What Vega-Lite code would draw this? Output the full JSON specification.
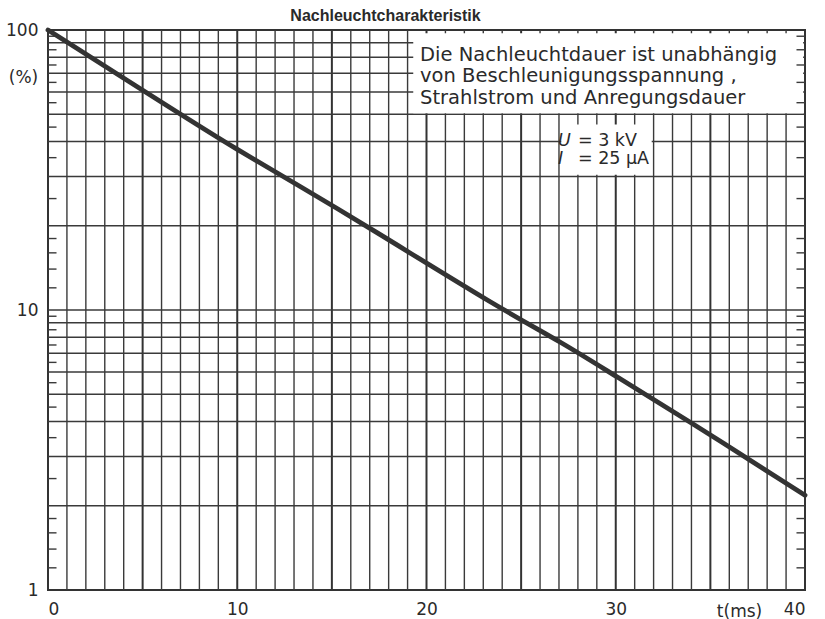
{
  "$schema": "https://vega.github.io/schema/vega-lite/v6.json",
  "width": 757,
  "height": 560,
  "autosize": {"type": "none"},
  "padding": {"left": 48, "top": 30, "right": 20, "bottom": 29},
  "background": "white",
  "title": {
    "text": "Nachleuchtcharakteristik",
    "font": "Liberation Sans",
    "fontSize": 16,
    "fontWeight": "bold",
    "color": "#2a2a2a",
    "anchor": "middle",
    "frame": "group",
    "dx": -41,
    "dy": 17,
    "offset": 0,
    "baseline": "alphabetic"
  },
  "config": {
    "view": {"stroke": "#333", "strokeWidth": 2},
    "axis": {
      "labelFont": "DejaVu Sans",
      "labelFontSize": 17,
      "labelColor": "#2a2a2a",
      "titleFont": "DejaVu Sans",
      "titleFontWeight": "normal",
      "titleColor": "#2a2a2a",
      "grid": false,
      "ticks": false,
      "domain": false,
      "labelOverlap": false
    }
  },
  "datasets": {
    "curve": [
      {"t": 0, "v": 100},
      {"t": 7, "v": 50},
      {"t": 9.9, "v": 37.7},
      {"t": 13.3, "v": 27.7},
      {"t": 16.84, "v": 19.95},
      {"t": 23.9, "v": 10.1},
      {"t": 27.1, "v": 7.7},
      {"t": 30, "v": 5.8},
      {"t": 33.4, "v": 4.2},
      {"t": 40, "v": 2.18}
    ],
    "xgridMajor": [{"g": 5}, {"g": 10}, {"g": 15}, {"g": 20}, {"g": 25}, {"g": 30}, {"g": 35}],
    "xgridMinor": [
      {"g": 1}, {"g": 2}, {"g": 3}, {"g": 4}, {"g": 6}, {"g": 7}, {"g": 8}, {"g": 9},
      {"g": 11}, {"g": 12}, {"g": 13}, {"g": 14}, {"g": 16}, {"g": 17}, {"g": 18}, {"g": 19},
      {"g": 21}, {"g": 22}, {"g": 23}, {"g": 24}, {"g": 26}, {"g": 27}, {"g": 28}, {"g": 29},
      {"g": 31}, {"g": 32}, {"g": 33}, {"g": 34}, {"g": 36}, {"g": 37}, {"g": 38}, {"g": 39}
    ],
    "ygrid": [
      {"g": 2}, {"g": 3}, {"g": 4}, {"g": 5}, {"g": 6}, {"g": 7}, {"g": 8}, {"g": 9}, {"g": 10},
      {"g": 20}, {"g": 30}, {"g": 40}, {"g": 50}, {"g": 60}, {"g": 70}, {"g": 80}, {"g": 90}
    ],
    "minor": [
      {"v": 1.2}, {"v": 1.4}, {"v": 1.6}, {"v": 1.8}, {"v": 2.5}, {"v": 3.5},
      {"v": 4.5}, {"v": 5.5}, {"v": 6.5}, {"v": 7.5}, {"v": 8.5}, {"v": 9.5},
      {"v": 12}, {"v": 14}, {"v": 16}, {"v": 18}, {"v": 25}, {"v": 35},
      {"v": 45}, {"v": 55}, {"v": 65}, {"v": 75}, {"v": 85}, {"v": 95}
    ],
    "one": [{}]
  },
  "layer": [
    {
      "data": {"name": "curve"},
      "mark": {"type": "line", "strokeOpacity": 0},
      "encoding": {
        "x": {
          "field": "t", "type": "quantitative",
          "scale": {"domain": [0, 40], "nice": false, "zero": false},
          "axis": {
            "values": [0, 10, 20, 30, 40],
            "labelExpr": "datum.value % 10 === 0 ? datum.label : ''",
            "labelPadding": 11,
            "labelBaseline": "top",
            "title": "t(ms)",
            "titleFontSize": 17,
            "titleX": 691,
            "titleY": 26,
            "titleBaseline": "alphabetic",
            "titleAlign": "center"
          }
        },
        "y": {
          "field": "v", "type": "quantitative",
          "scale": {"type": "log", "domain": [1, 100], "nice": false},
          "axis": {
            "values": [1, 10, 100],
            "labelExpr": "(datum.value === 1 || datum.value === 10 || datum.value === 100) ? datum.label : ''",
            "labelPadding": 10,
            "title": "(%)",
            "titleFontSize": 17,
            "titleAngle": 0,
            "titleX": -25,
            "titleY": 47,
            "titleAlign": "center",
            "titleBaseline": "middle"
          }
        }
      }
    },
    {
      "data": {"name": "xgridMinor"},
      "mark": {"type": "rule", "color": "#3a3a3a", "strokeWidth": 1.4},
      "encoding": {"x": {"field": "g", "type": "quantitative"}}
    },
    {
      "data": {"name": "xgridMajor"},
      "mark": {"type": "rule", "color": "#333", "strokeWidth": 2},
      "encoding": {"x": {"field": "g", "type": "quantitative"}}
    },
    {
      "data": {"name": "ygrid"},
      "mark": {"type": "rule", "color": "#3a3a3a", "strokeWidth": 1.5},
      "encoding": {"y": {"field": "g", "type": "quantitative"}}
    },
    {
      "data": {"name": "one"},
      "mark": {"type": "rect", "color": "white", "opacity": 1},
      "encoding": {
        "x": {"datum": 19.3, "type": "quantitative"},
        "x2": {"datum": 39.9},
        "y": {"datum": 50.4, "type": "quantitative"},
        "y2": {"datum": 97.3}
      }
    },
    {
      "data": {"name": "one"},
      "mark": {"type": "rect", "color": "white", "opacity": 1},
      "encoding": {
        "x": {"datum": 27.12, "type": "quantitative"},
        "x2": {"datum": 31.9},
        "y": {"datum": 30.4, "type": "quantitative"},
        "y2": {"datum": 46}
      }
    },
    {
      "data": {"name": "minor"},
      "mark": {"type": "rule", "color": "#3a3a3a", "strokeWidth": 1.4},
      "encoding": {
        "x": {"datum": 0, "type": "quantitative"},
        "x2": {"datum": 0.45},
        "y": {"field": "v", "type": "quantitative"}
      }
    },
    {
      "data": {"name": "minor"},
      "mark": {"type": "rule", "color": "#3a3a3a", "strokeWidth": 1.4},
      "encoding": {
        "x": {"datum": 39.55, "type": "quantitative"},
        "x2": {"datum": 40},
        "y": {"field": "v", "type": "quantitative"}
      }
    },
    {
      "data": {"name": "curve"},
      "mark": {"type": "line", "color": "#333", "strokeWidth": 4.8, "interpolate": "basis", "strokeCap": "round"},
      "encoding": {
        "x": {"field": "t", "type": "quantitative"},
        "y": {"field": "v", "type": "quantitative"}
      }
    },
    {
      "data": {"name": "one"},
      "mark": {
        "type": "text",
        "text": ["Die Nachleuchtdauer ist unabhängig", "von Beschleunigungsspannung ,", "Strahlstrom und Anregungsdauer"],
        "font": "DejaVu Sans",
        "fontSize": 19.5,
        "lineHeight": 21.5,
        "align": "left",
        "baseline": "alphabetic",
        "color": "#2a2a2a"
      },
      "encoding": {
        "x": {"datum": 19.66, "type": "quantitative"},
        "y": {"datum": 77.8, "type": "quantitative"}
      }
    },
    {
      "data": {"name": "one"},
      "mark": {
        "type": "text",
        "text": ["U", "I"],
        "font": "DejaVu Sans",
        "fontSize": 17.5,
        "fontStyle": "italic",
        "lineHeight": 18,
        "align": "left",
        "baseline": "alphabetic",
        "color": "#2a2a2a"
      },
      "encoding": {
        "x": {"datum": 26.95, "type": "quantitative"},
        "y": {"datum": 38.6, "type": "quantitative"}
      }
    },
    {
      "data": {"name": "one"},
      "mark": {
        "type": "text",
        "text": ["= 3 kV", "= 25 µA"],
        "font": "DejaVu Sans",
        "fontSize": 17.5,
        "lineHeight": 18,
        "align": "left",
        "baseline": "alphabetic",
        "color": "#2a2a2a"
      },
      "encoding": {
        "x": {"datum": 28.0, "type": "quantitative"},
        "y": {"datum": 38.6, "type": "quantitative"}
      }
    }
  ]
}
